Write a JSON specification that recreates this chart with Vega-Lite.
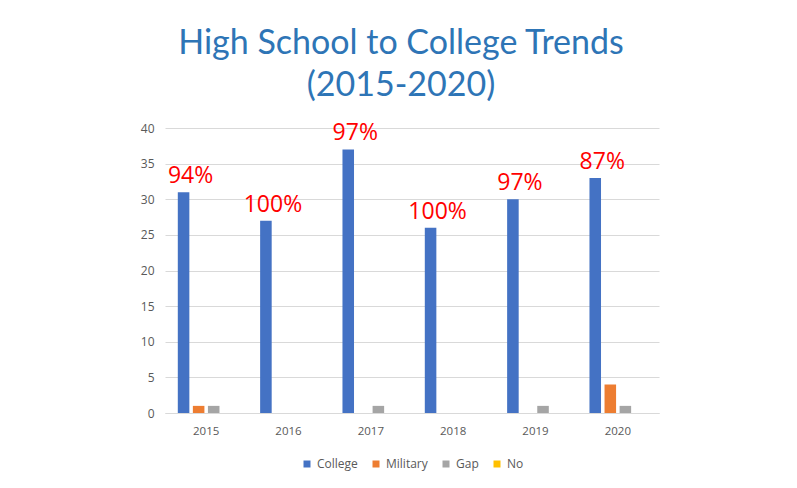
{
  "$schema": "https://vega.github.io/schema/vega-lite/v6.json",
  "width": 494,
  "height": 285,
  "autosize": {"type": "none"},
  "padding": {"left": 165, "top": 128, "right": 138, "bottom": 75},
  "background": "white",
  "config": {"view": {"stroke": null}, "font": "Open Sans"},
  "title": {
    "text": ["High School to College Trends", "(2015-2020)"],
    "font": "Lato",
    "fontSize": 34,
    "fontWeight": "normal",
    "color": "#2E75B6",
    "anchor": "middle",
    "lineHeight": 42,
    "offset": 19,
    "dx": -11
  },
  "data": {
    "values": [
      {"year": "2015", "series": "College", "value": 31, "pct": "94%"},
      {"year": "2015", "series": "Military", "value": 1},
      {"year": "2015", "series": "Gap", "value": 1},
      {"year": "2015", "series": "No", "value": 0},
      {"year": "2016", "series": "College", "value": 27, "pct": "100%"},
      {"year": "2016", "series": "Military", "value": 0},
      {"year": "2016", "series": "Gap", "value": 0},
      {"year": "2016", "series": "No", "value": 0},
      {"year": "2017", "series": "College", "value": 37, "pct": "97%"},
      {"year": "2017", "series": "Military", "value": 0},
      {"year": "2017", "series": "Gap", "value": 1},
      {"year": "2017", "series": "No", "value": 0},
      {"year": "2018", "series": "College", "value": 26, "pct": "100%"},
      {"year": "2018", "series": "Military", "value": 0},
      {"year": "2018", "series": "Gap", "value": 0},
      {"year": "2018", "series": "No", "value": 0},
      {"year": "2019", "series": "College", "value": 30, "pct": "97%"},
      {"year": "2019", "series": "Military", "value": 0},
      {"year": "2019", "series": "Gap", "value": 1},
      {"year": "2019", "series": "No", "value": 0},
      {"year": "2020", "series": "College", "value": 33, "pct": "87%"},
      {"year": "2020", "series": "Military", "value": 4},
      {"year": "2020", "series": "Gap", "value": 1},
      {"year": "2020", "series": "No", "value": 0}
    ]
  },
  "encoding": {
    "x": {
      "field": "year", "type": "nominal",
      "scale": {"paddingInner": 0, "paddingOuter": 0},
      "axis": {"title": null, "labelAngle": 0, "ticks": false, "domain": true, "domainColor": "#D9D9D9", "domainWidth": 1, "labelPadding": 12, "labelFontSize": 11.5, "labelColor": "#595959", "grid": false}
    },
    "xOffset": {
      "field": "series", "type": "nominal",
      "scale": {"domain": ["College", "Military", "Gap", "No"], "paddingInner": 0.233, "paddingOuter": 0.85}
    },
    "y": {
      "field": "value", "type": "quantitative",
      "scale": {"domain": [0, 40]},
      "axis": {"title": null, "values": [0, 5, 10, 15, 20, 25, 30, 35, 40], "labelOverlap": false, "domain": false, "ticks": false, "gridColor": "#D9D9D9", "labelPadding": 11, "labelFontSize": 12, "labelColor": "#595959"}
    }
  },
  "layer": [
    {
      "mark": {"type": "bar"},
      "encoding": {
        "color": {
          "field": "series", "type": "nominal",
          "scale": {"domain": ["College", "Military", "Gap", "No"], "range": ["#4472C4", "#ED7D31", "#A5A5A5", "#FFC000"]},
          "legend": {"title": null, "orient": "none", "legendX": 136, "legendY": 330, "direction": "horizontal", "columns": 4, "symbolType": "square", "symbolSize": 49, "symbolStrokeWidth": 0, "labelFontSize": 12, "labelColor": "#595959", "columnPadding": 12, "labelOffset": 4}
        }
      }
    },
    {
      "transform": [{"filter": "datum.series === 'College'"}],
      "mark": {"type": "text", "baseline": "alphabetic", "align": "center", "dy": -9, "dx": 7, "fontSize": 23, "color": "#FF0000", "font": "Open Sans"},
      "encoding": {
        "text": {"field": "pct"}
      }
    }
  ]
}
